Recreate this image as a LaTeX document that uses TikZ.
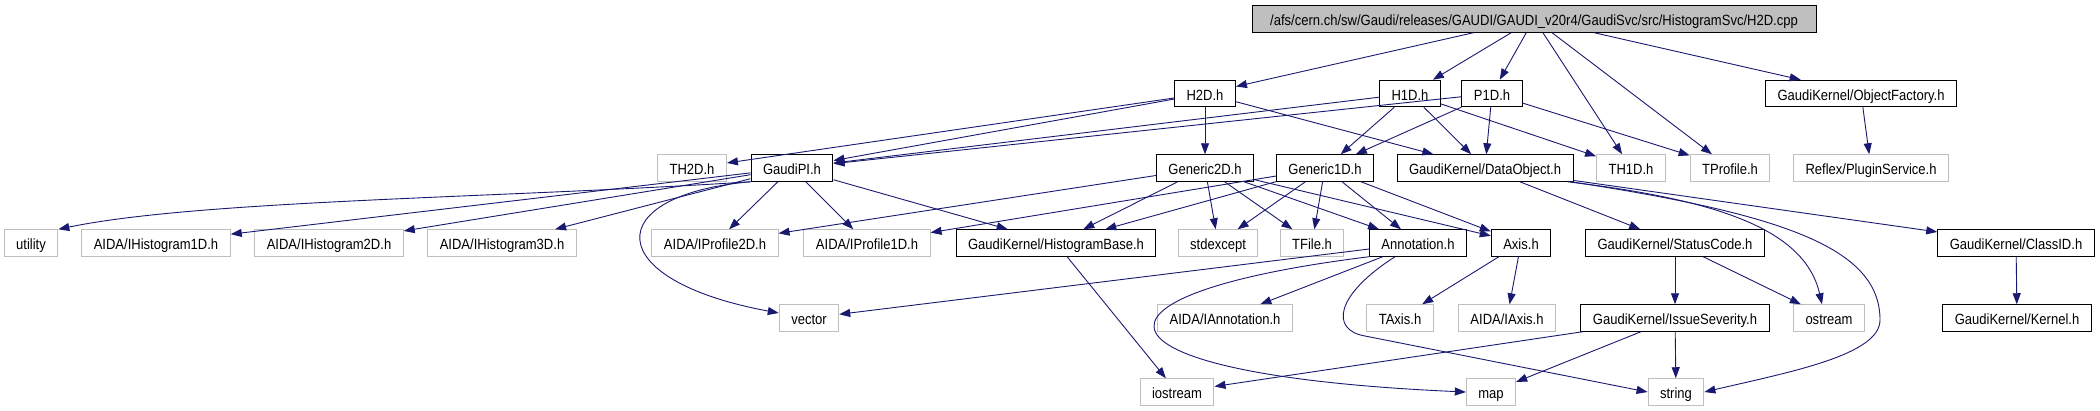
\documentclass[tikz,border=0pt]{standalone}
\usepackage{fontspec}
\setmainfont{Liberation Sans}[FakeStretch=0.88]
\usepackage{tikz}
\usetikzlibrary{arrows.meta}
\usepackage{xcolor}

\definecolor{edgeblue}{HTML}{191970}
\definecolor{boxgray}{HTML}{BFBFBF}

\tikzset{
  incbox/.style={draw=black, line width=1pt, inner xsep=12pt, inner ysep=0pt,
    minimum height=26.5pt, text height=13pt, text depth=0pt,
    font=\fontsize{14.8}{16}\selectfont},
  extbox/.style={incbox, draw=boxgray},
  rootbox/.style={incbox, fill=boxgray, minimum width=564pt},
  incl/.style={draw=edgeblue, line width=0.9pt, -{Triangle[length=11pt,width=8pt]}},
}

\begin{document}
\begin{tikzpicture}[x=1pt, y=-1pt]
  \useasboundingbox (0,0) rectangle (2100,410);

  %% source file
  \node[rootbox] (root) at (1534,19) {/afs/cern.ch/sw/Gaudi/releases/GAUDI/GAUDI\_v20r4/GaudiSvc/src/HistogramSvc/H2D.cpp};

  %% first level
  \node[incbox] (H2D) at (1205,93.5) {H2D.h};
  \node[incbox] (H1D) at (1410,93.5) {H1D.h};
  \node[incbox] (P1D) at (1492,93.5) {P1D.h};
  \node[incbox] (ObjFac) at (1861,93.5) {GaudiKernel/ObjectFactory.h};

  %% second level
  \node[extbox] (TH2D) at (692,168) {TH2D.h};
  \node[incbox] (GaudiPI) at (792,168) {GaudiPI.h};
  \node[incbox] (Gen2D) at (1205,168) {Generic2D.h};
  \node[incbox] (Gen1D) at (1325,168) {Generic1D.h};
  \node[incbox] (DataObj) at (1485,168) {GaudiKernel/DataObject.h};
  \node[extbox] (TH1D) at (1631,168) {TH1D.h};
  \node[extbox] (TProfile) at (1730,168) {TProfile.h};
  \node[extbox] (Plugin) at (1871,168) {Reflex/PluginService.h};

  %% third level
  \node[extbox] (utility) at (31,243) {utility};
  \node[extbox] (IH1D) at (156,243) {AIDA/IHistogram1D.h};
  \node[extbox] (IH2D) at (329,243) {AIDA/IHistogram2D.h};
  \node[extbox] (IH3D) at (502,243) {AIDA/IHistogram3D.h};
  \node[extbox] (IP2D) at (715,243) {AIDA/IProfile2D.h};
  \node[extbox] (IP1D) at (867,243) {AIDA/IProfile1D.h};
  \node[incbox] (HBase) at (1056,243) {GaudiKernel/HistogramBase.h};
  \node[extbox] (stdexcept) at (1218,243) {stdexcept};
  \node[extbox] (TFile) at (1312,243) {TFile.h};
  \node[incbox] (Annot) at (1418,243) {Annotation.h};
  \node[incbox] (Axis) at (1521,243) {Axis.h};
  \node[incbox] (StatCode) at (1675,243) {GaudiKernel/StatusCode.h};
  \node[incbox] (ClassID) at (2016,243) {GaudiKernel/ClassID.h};

  %% fourth level
  \node[extbox] (vector) at (809,318) {vector};
  \node[extbox] (IAnnot) at (1225,318) {AIDA/IAnnotation.h};
  \node[extbox] (TAxis) at (1400,318) {TAxis.h};
  \node[extbox] (IAxis) at (1507,318) {AIDA/IAxis.h};
  \node[incbox] (Issue) at (1675,318) {GaudiKernel/IssueSeverity.h};
  \node[extbox] (ostream) at (1829,318) {ostream};
  \node[incbox] (Kernel) at (2017,318) {GaudiKernel/Kernel.h};

  %% bottom
  \node[extbox] (iostream) at (1177,392) {iostream};
  \node[extbox] (map) at (1491,392) {map};
  \node[extbox] (string) at (1676,392) {string};

  %% includes of the source file
  \foreach \t in {H2D,H1D,P1D,TH1D,TProfile,ObjFac}
    \draw[incl] (root) -- (\t);

  %% H2D.h, H1D.h, P1D.h
  \foreach \t in {TH2D,GaudiPI,Gen2D,DataObj}
    \draw[incl] (H2D) -- (\t);
  \foreach \t in {GaudiPI,Gen1D,DataObj,TH1D}
    \draw[incl] (H1D) -- (\t);
  \foreach \t in {GaudiPI,Gen1D,DataObj,TProfile}
    \draw[incl] (P1D) -- (\t);
  \draw[incl] (ObjFac) -- (Plugin);

  %% GaudiPI.h
  \draw[incl] (GaudiPI.south west) .. controls (500,198) and (200,200) .. (utility.north east);
  \foreach \t in {IH1D,IH2D,IH3D,IP2D,IP1D,HBase}
    \draw[incl] (GaudiPI) -- (\t);
  \draw[incl] (GaudiPI.south west) .. controls (600,195) and (600,280) .. ([yshift=5pt]vector.west);

  %% Generic2D.h, Generic1D.h
  \foreach \t in {IP2D,HBase,stdexcept,TFile,Annot,Axis}
    \draw[incl] (Gen2D) -- (\t);
  \foreach \t in {IP1D,HBase,stdexcept,TFile,Annot,Axis}
    \draw[incl] (Gen1D) -- (\t);

  %% DataObject.h
  \draw[incl] (DataObj) -- (StatCode);
  \draw[incl] (DataObj) -- (ClassID);
  \draw[incl] ([xshift=-6pt]DataObj.south east) .. controls (1720,200) and (1805,230) .. ([xshift=-7pt]ostream.north);
  \draw[incl] ([xshift=-3pt]DataObj.south east) .. controls (1790,215) and (1880,250) .. (1880,320)
    .. controls (1880,355) and (1790,372) .. (string.east);

  %% the rest
  \draw[incl] (HBase) -- (iostream);
  \draw[incl] (Annot) -- (vector);
  \draw[incl] (Annot) -- (IAnnot);
  \draw[incl] (Annot.south west) .. controls (1060,295) and (1080,375) .. (map.west);
  \draw[incl] ([xshift=-23pt]Annot.south) .. controls (1335,295) and (1330,330) .. (1365,336) -- (string.west);
  \draw[incl] (Axis) -- (TAxis);
  \draw[incl] (Axis) -- (IAxis);
  \draw[incl] (StatCode) -- (Issue);
  \draw[incl] (StatCode) -- (ostream);
  \foreach \t in {iostream,map,string}
    \draw[incl] (Issue) -- (\t);
  \draw[incl] (ClassID) -- (Kernel);
\end{tikzpicture}
\end{document}
